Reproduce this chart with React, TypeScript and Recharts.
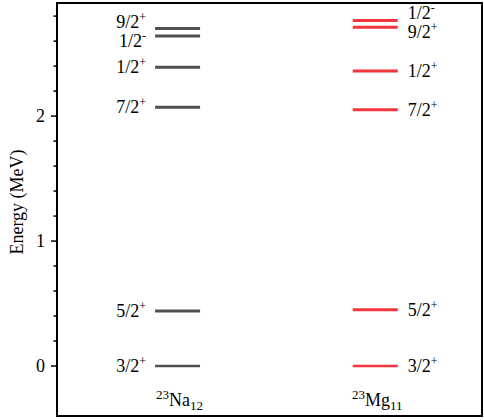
import { ScatterChart, Scatter, XAxis, YAxis } from "recharts";

// Energy levels (MeV)
const naEnergies = [0, 0.44, 2.07, 2.39, 2.64, 2.7];
const naSpins = ["3/2", "5/2", "7/2", "1/2", "1/2", "9/2"];
const naParities = ["+", "+", "+", "+", "-", "+"];

const mgEnergies = [0, 0.45, 2.05, 2.36, 2.71, 2.765];
const mgSpins = ["3/2", "5/2", "7/2", "1/2", "9/2", "1/2"];
const mgParities = ["+", "+", "+", "+", "+", "-"];

// columns
const nucleusSymbols = ["Na", "Mg"];
const massNumbers = ["23", "23"];
const neutronNumbers = ["12", "11"];
const columnColors = ["#505050", "#f2363c"];

const yTicks = [0, 0.2, 0.4, 0.6, 0.8, 1, 1.2, 1.4, 1.6, 1.8, 2, 2.2, 2.4, 2.6, 2.8];
const yDomain = [-0.4, 2.905];
const xDomain = [-0.61, 1.54];

const FONT = "'Liberation Serif', 'Times New Roman', serif";
const CHART_W = 484;
const CHART_H = 420;
const PLOT_TOP = 3;
const PLOT_BOTTOM = 416;
const PLOT_LEFT = 57;
const PLOT_RIGHT = 482;
const pxPerMeV = (PLOT_BOTTOM - PLOT_TOP) / (yDomain[1] - yDomain[0]);
const MIN_LABEL_GAP = 19;

function buildLevels(col: number, energies: number[], spins: string[], parities: string[]) {
  return energies.map((e, i) => {
    // spread labels of levels that sit too close together
    let shift = 0;
    const above = energies[i + 1];
    const below = energies[i - 1];
    if (above !== undefined) {
      const d = (above - e) * pxPerMeV;
      if (d < MIN_LABEL_GAP) shift += (MIN_LABEL_GAP - d) * 0.4;
    }
    if (below !== undefined) {
      const d = (e - below) * pxPerMeV;
      if (d < MIN_LABEL_GAP) shift -= (MIN_LABEL_GAP - d) * 0.6;
    }
    return {
      x: col,
      y: e,
      spin: spins[i],
      parity: parities[i],
      ground: e === 0,
      left: col === 0,
      shift,
    };
  });
}

const naLevels = buildLevels(0, naEnergies, naSpins, naParities);
const mgLevels = buildLevels(1, mgEnergies, mgSpins, mgParities);

const LevelShape = (props: any) => {
  const { cx, cy, payload, fill } = props;
  const half = 22.5;
  const tx = payload.left ? cx - half - 9 : cx + half + 10;
  return (
    <g>
      <line
        x1={cx - half}
        x2={cx + half}
        y1={cy}
        y2={cy}
        stroke={fill}
        strokeWidth={payload.ground ? 2.5 : 3}
      />
      <text
        x={tx}
        y={cy + payload.shift + 6}
        textAnchor={payload.left ? "end" : "start"}
        fontFamily={FONT}
        fontSize={18}
        fill="#000"
      >
        {payload.spin}
        <tspan fontSize={12} dy={-7}>
          {payload.parity}
        </tspan>
      </text>
    </g>
  );
};

const YTick = (props: any) => {
  const { x, y, payload } = props;
  const major = Number.isInteger(payload.value);
  return (
    <g>
      <line x1={x - (major ? 6 : 3.5)} x2={x} y1={y} y2={y} stroke="#000" strokeWidth={1.5} />
      {major && (
        <text x={x - 12} y={y + 6} textAnchor="end" fontFamily={FONT} fontSize={18} fill="#000">
          {payload.value}
        </text>
      )}
    </g>
  );
};

const XTick = (props: any) => {
  const { x, y, payload } = props;
  const i = payload.value;
  return (
    <text x={x + 2} y={y - 10} textAnchor="middle" fontFamily={FONT} fontSize={18} fill="#000">
      <tspan fontSize={13} dy={-7}>
        {massNumbers[i]}
      </tspan>
      <tspan dy={7}>{nucleusSymbols[i]}</tspan>
      <tspan fontSize={13} dy={4}>
        {neutronNumbers[i]}
      </tspan>
    </text>
  );
};

const YLabel = () => (
  <text
    x={23}
    y={202}
    transform="rotate(-90, 23, 202)"
    textAnchor="middle"
    fontFamily={FONT}
    fontSize={18}
    fill="#000"
  >
    Energy (MeV)
  </text>
);

export default function App() {
  return (
    <div
      style={{
        position: "absolute",
        left: 0,
        top: 0,
        width: CHART_W,
        height: CHART_H,
        background: "#fff",
      }}
    >
      <ScatterChart
        width={CHART_W}
        height={CHART_H}
        margin={{ top: PLOT_TOP, right: CHART_W - PLOT_RIGHT, bottom: 0, left: 0 }}
      >
        <XAxis
          xAxisId="bottom"
          type="number"
          dataKey="x"
          domain={xDomain}
          ticks={[0, 1]}
          allowDataOverflow
          height={CHART_H - PLOT_BOTTOM}
          tickSize={0}
          tickMargin={0}
          tickLine={false}
          tick={<XTick />}
          axisLine={{ stroke: "#000", strokeWidth: 2 }}
        />
        <YAxis
          yAxisId="left"
          type="number"
          dataKey="y"
          domain={yDomain}
          ticks={yTicks}
          allowDataOverflow
          width={PLOT_LEFT}
          tickSize={0}
          tickMargin={0}
          tickLine={false}
          tick={<YTick />}
          interval={0}
          axisLine={{ stroke: "#000", strokeWidth: 2 }}
          label={<YLabel />}
        />
        <Scatter
          xAxisId="bottom"
          yAxisId="left"
          data={naLevels}
          fill={columnColors[0]}
          shape={<LevelShape />}
          isAnimationActive={false}
        />
        <Scatter
          xAxisId="bottom"
          yAxisId="left"
          data={mgLevels}
          fill={columnColors[1]}
          shape={<LevelShape />}
          isAnimationActive={false}
        />
      </ScatterChart>
      {/* plot frame */}
      <div
        style={{
          position: "absolute",
          left: PLOT_LEFT - 1,
          top: PLOT_TOP - 1,
          width: PLOT_RIGHT - PLOT_LEFT + 2,
          height: PLOT_BOTTOM - PLOT_TOP + 2,
          boxSizing: "border-box",
          border: "2px solid #000",
          pointerEvents: "none",
        }}
      />
    </div>
  );
}
